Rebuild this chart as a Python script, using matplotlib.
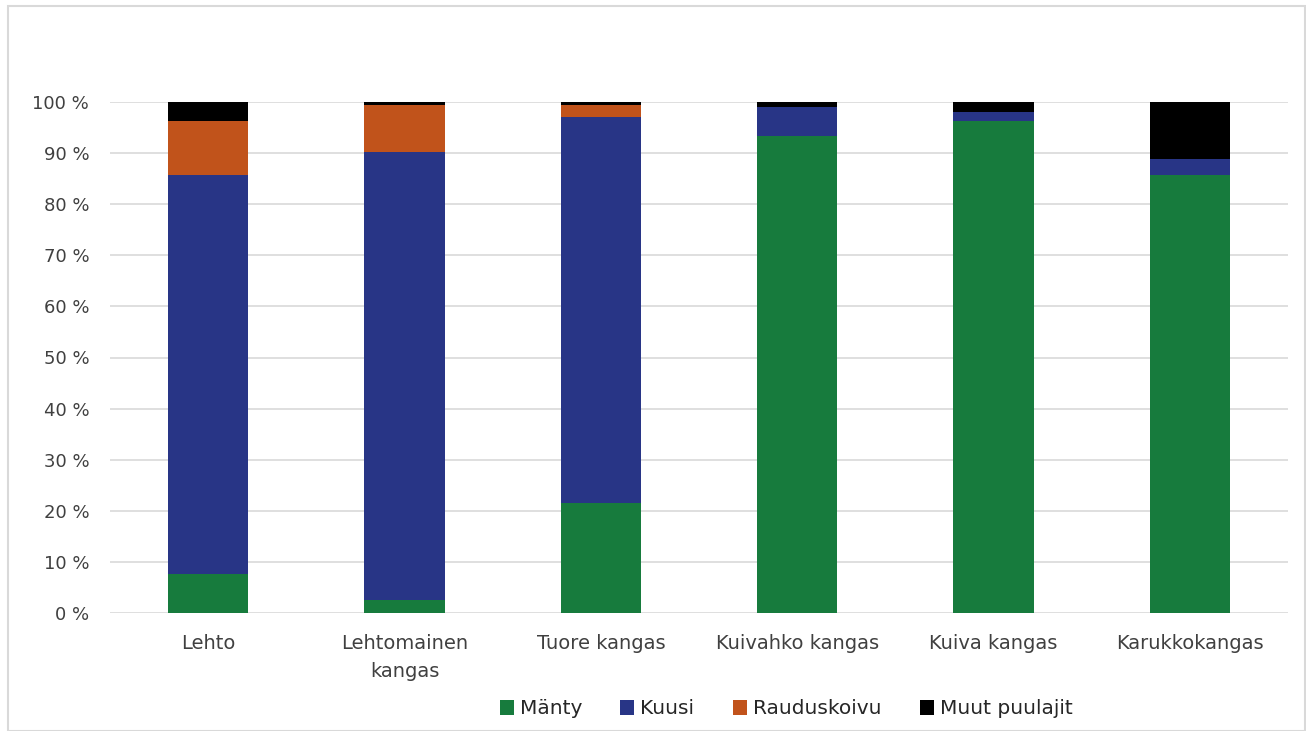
import numpy as np
import matplotlib.pyplot as plt
from matplotlib.patches import Rectangle

plt.rcParams['font.family'] = ['DejaVu Sans']

# kasvupaikat
categories = ["Lehto", "Lehtomainen\nkangas", "Tuore kangas",
              "Kuivahko kangas", "Kuiva kangas", "Karukkokangas"]
manty = [7.7, 2.6, 21.5, 93.4, 96.3, 85.8]
kuusi = [78.0, 87.6, 75.6, 5.6, 1.7, 3.0]
rauduskoivu = [10.6, 9.2, 2.3, 0.0, 0.0, 0.0]
muut = [3.7, 0.6, 0.6, 1.0, 2.0, 11.2]
yticks = [0, 10, 20, 30, 40, 50, 60, 70, 80, 90, 100]

series = [("Mänty", manty, "#177b3d"),
          ("Kuusi", kuusi, "#283586"),
          ("Rauduskoivu", rauduskoivu, "#c1531b"),
          ("Muut puulajit", muut, "#000000")]

fig = plt.figure(figsize=(13.06, 7.31), dpi=100)
ax = fig.add_axes([110 / 1306, 118 / 731, 1178 / 1306, 511 / 731])

x = np.arange(len(categories))
bottom = np.zeros(len(categories))
for name, vals, col in series:
    ax.bar(x, vals, 0.41, bottom=bottom, color=col, label=name, zorder=3)
    bottom += np.array(vals)

ax.set_xlim(-0.5, len(categories) - 0.5)
ax.set_ylim(0, 100)
ax.set_yticks(yticks)
ax.set_yticklabels([f"{t} %" for t in yticks])
ax.set_xticks(x)
ax.set_xticklabels(categories, linespacing=1.6)
ax.tick_params(axis='both', length=0, colors="#404040")
ax.tick_params(axis='x', pad=15, labelsize=14)
ax.tick_params(axis='y', pad=15, labelsize=13)
ax.grid(axis='y', color="#d9d9d9", linewidth=1.2, zorder=0)
for s in ax.spines.values():
    s.set_visible(False)

# reunus
fig.patches.append(Rectangle((8 / 1306, 0), 1297 / 1306, 725 / 731,
                             transform=fig.transFigure, fill=False,
                             edgecolor="#d9d9d9", linewidth=1.5))

leg = fig.legend(loc='center', bbox_to_anchor=(786 / 1306, 1 - 709 / 731),
                 ncol=4, frameon=False, fontsize=14.5, handlelength=0.7,
                 handleheight=0.7, handletextpad=0.3, columnspacing=1.9)
for t in leg.get_texts():
    t.set_color("#262626")

fig.savefig("out.png", dpi=100)
